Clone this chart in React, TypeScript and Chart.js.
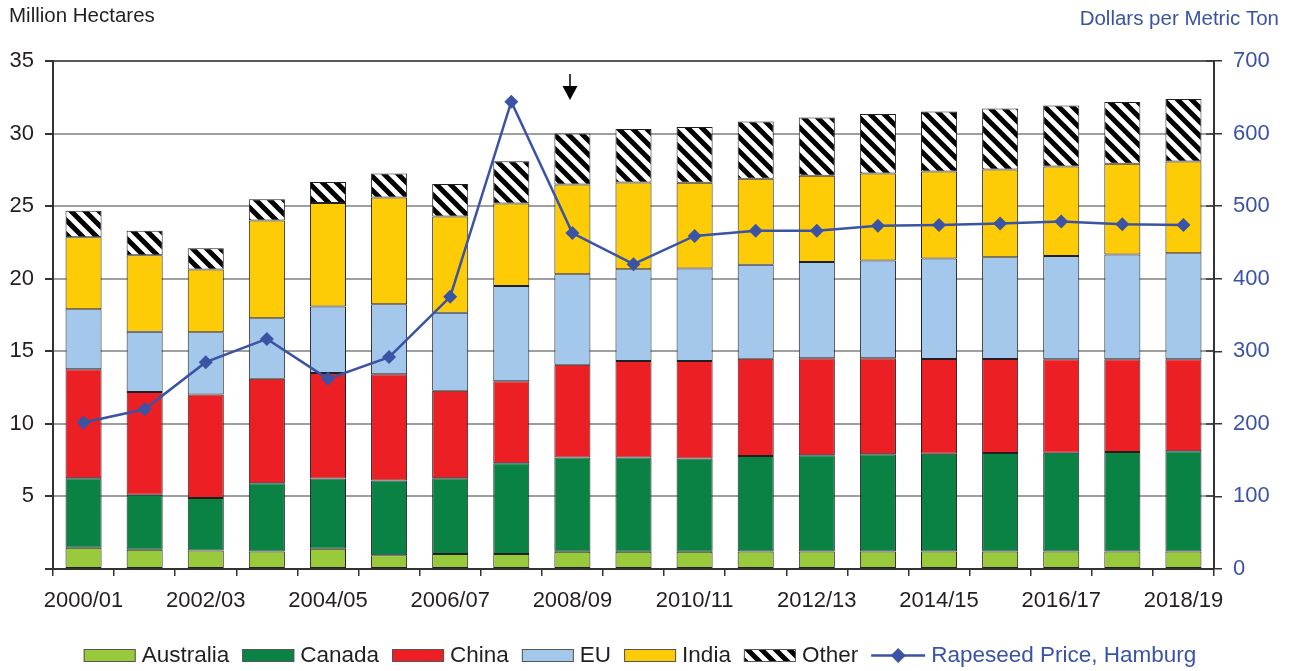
import { useEffect, useRef } from 'react';
import { Chart, registerables } from 'chart.js';

Chart.register(...registerables);

// Marketing years on the category axis
const seasons = [
  '2000/01', '2001/02', '2002/03', '2003/04', '2004/05', '2005/06', '2006/07',
  '2007/08', '2008/09', '2009/10', '2010/11', '2011/12', '2012/13', '2013/14',
  '2014/15', '2015/16', '2016/17', '2017/18', '2018/19',
];

// Harvested area, million hectares
const australia = [1.46, 1.32, 1.28, 1.21, 1.39, 0.95, 1.04, 1.04, 1.18, 1.18, 1.18, 1.21, 1.21, 1.21, 1.21, 1.21, 1.21, 1.21, 1.21];
const canada = [4.8, 3.79, 3.62, 4.69, 4.85, 5.15, 5.22, 6.24, 6.51, 6.51, 6.44, 6.57, 6.62, 6.69, 6.73, 6.78, 6.8, 6.85, 6.91];
const china = [7.5, 7.08, 7.13, 7.21, 7.26, 7.31, 6.02, 5.65, 6.39, 6.64, 6.71, 6.71, 6.69, 6.62, 6.53, 6.48, 6.44, 6.39, 6.33];
const eu = [4.14, 4.16, 4.28, 4.17, 4.58, 4.83, 5.38, 6.57, 6.23, 6.33, 6.37, 6.48, 6.64, 6.73, 6.92, 7.01, 7.12, 7.21, 7.31];
const india = [4.96, 5.27, 4.32, 6.73, 7.13, 7.36, 6.62, 5.68, 6.18, 5.97, 5.91, 5.91, 5.93, 6.0, 6.0, 6.05, 6.16, 6.26, 6.32];
const other = [1.82, 1.68, 1.47, 1.47, 1.45, 1.65, 2.24, 2.92, 3.51, 3.68, 3.84, 3.95, 4.02, 4.09, 4.13, 4.2, 4.21, 4.25, 4.3];

// Rapeseed price, Hamburg, dollars per metric ton
const price = [202, 220, 285, 317, 262, 292, 375, 644, 463, 420, 459, 466, 466, 473, 474, 476, 479, 475, 474];

// Index of the season marked with the arrow (start of projections)
const markedSeason = 8;

const FONT = '"Liberation Sans", Arial, Helvetica, sans-serif';
const INK = '#231f20';
const AXIS = '#333333';
const GRID = '#9d9fa2';
const BLUE = '#3a53a4';

const COLORS = {
  australia: '#99ca3c',
  canada: '#0a8244',
  china: '#ec2024',
  eu: '#a3c8eb',
  india: '#fdcc06',
};

function makeHatch(): CanvasPattern | string {
  const s = 14;
  const c = document.createElement('canvas');
  c.width = s;
  c.height = s;
  const g = c.getContext('2d');
  if (!g) return '#888';
  g.fillStyle = '#ffffff';
  g.fillRect(0, 0, s, s);
  g.strokeStyle = '#000000';
  g.lineWidth = 5;
  g.beginPath();
  for (const o of [-s, 0, s]) {
    g.moveTo(o - 3, -3);
    g.lineTo(o + s + 3, s + 3);
  }
  g.stroke();
  return g.createPattern(c, 'repeat') || '#888';
}

function line(ctx: CanvasRenderingContext2D, x1: number, y1: number, x2: number, y2: number) {
  ctx.beginPath();
  ctx.moveTo(x1, y1);
  ctx.lineTo(x2, y2);
  ctx.stroke();
}

export default function App() {
  const ref = useRef<HTMLCanvasElement>(null);

  useEffect(() => {
    const canvas = ref.current;
    if (!canvas) return;
    const hatch = makeHatch();

    const legendItems = [
      { label: 'Australia', fill: COLORS.australia },
      { label: 'Canada', fill: COLORS.canada },
      { label: 'China', fill: COLORS.china },
      { label: 'EU', fill: COLORS.eu },
      { label: 'India', fill: COLORS.india },
      { label: 'Other', fill: hatch },
    ];

    const decorations = {
      id: 'decorations',
      afterDraw(chart: any) {
        const { ctx, chartArea, scales } = chart;
        ctx.save();

        // axis titles
        ctx.font = `20.5px ${FONT}`;
        ctx.textBaseline = 'alphabetic';
        ctx.fillStyle = INK;
        ctx.textAlign = 'left';
        ctx.fillText('Million Hectares', 9, 22);
        ctx.fillStyle = BLUE;
        ctx.textAlign = 'right';
        ctx.fillText('Dollars per Metric Ton', 1279, 25);

        // inner half of the right-axis tick marks
        const y1 = scales.y1;
        ctx.strokeStyle = AXIS;
        ctx.lineWidth = 1.5;
        y1.ticks.forEach((t: any) => {
          const y = Math.round(y1.getPixelForValue(t.value));
          line(ctx, chartArea.right - 8, y, chartArea.right, y);
        });

        // arrow over the first projected season
        const ax = Math.round(scales.x.getPixelForValue(markedSeason)) - 2;
        const top = chartArea.top;
        ctx.strokeStyle = '#000';
        ctx.fillStyle = '#000';
        ctx.lineWidth = 1.5;
        line(ctx, ax, top + 13, ax, top + 27);
        ctx.beginPath();
        ctx.moveTo(ax - 7.5, top + 25);
        ctx.lineTo(ax + 7.5, top + 25);
        ctx.lineTo(ax, top + 39);
        ctx.closePath();
        ctx.fill();

        // legend
        ctx.font = `22.5px ${FONT}`;
        ctx.textAlign = 'left';
        const boxW = 52;
        const boxH = 13;
        const gapText = 6;
        const gapItem = 13;
        const lineW = 54;
        const priceLabel = 'Rapeseed Price, Hamburg';
        let total = 0;
        legendItems.forEach((it) => {
          total += boxW + gapText + ctx.measureText(it.label).width + gapItem;
        });
        total += lineW + gapText + ctx.measureText(priceLabel).width;
        let x = 640 - total / 2;
        const baseY = 662;
        const boxTop = 649;
        legendItems.forEach((it) => {
          ctx.fillStyle = it.fill;
          ctx.fillRect(x, boxTop, boxW, boxH);
          ctx.strokeStyle = '#555';
          ctx.lineWidth = 1;
          ctx.strokeRect(x + 0.5, boxTop + 0.5, boxW - 1, boxH - 1);
          x += boxW + gapText;
          ctx.fillStyle = INK;
          ctx.fillText(it.label, x, baseY);
          x += ctx.measureText(it.label).width + gapItem;
        });
        const ly = boxTop + boxH / 2;
        ctx.strokeStyle = BLUE;
        ctx.lineWidth = 2.5;
        line(ctx, x, ly, x + lineW, ly);
        const cx = x + lineW / 2;
        ctx.fillStyle = BLUE;
        ctx.beginPath();
        ctx.moveTo(cx - 7.5, ly);
        ctx.lineTo(cx, ly - 7.5);
        ctx.lineTo(cx + 7.5, ly);
        ctx.lineTo(cx, ly + 7.5);
        ctx.closePath();
        ctx.fill();
        x += lineW + gapText;
        ctx.fillStyle = BLUE;
        ctx.fillText(priceLabel, x, baseY);

        ctx.restore();
      },
    };

    const barBase = {
      type: 'bar' as const,
      stack: 'area',
      yAxisID: 'y',
      borderColor: INK,
      borderWidth: 1,
      borderSkipped: false,
      barPercentage: 0.59,
      categoryPercentage: 1,
      order: 1,
    };

    const chart = new Chart(canvas, {
      type: 'bar',
      data: {
        labels: seasons,
        datasets: [
          { ...barBase, label: 'Australia', data: australia, backgroundColor: COLORS.australia },
          { ...barBase, label: 'Canada', data: canada, backgroundColor: COLORS.canada },
          { ...barBase, label: 'China', data: china, backgroundColor: COLORS.china },
          { ...barBase, label: 'EU', data: eu, backgroundColor: COLORS.eu },
          { ...barBase, label: 'India', data: india, backgroundColor: COLORS.india },
          { ...barBase, label: 'Other', data: other, backgroundColor: hatch as any },
          {
            type: 'line' as const,
            label: 'Rapeseed Price, Hamburg',
            data: price,
            yAxisID: 'y1',
            borderColor: BLUE,
            borderWidth: 2.5,
            backgroundColor: BLUE,
            pointStyle: 'rectRot',
            pointRadius: 7,
            pointBackgroundColor: BLUE,
            pointBorderColor: BLUE,
            pointBorderWidth: 0,
            tension: 0,
            order: 0,
          } as any,
        ],
      },
      options: {
        responsive: false,
        animation: false,
        devicePixelRatio: 1,
        layout: { padding: { top: 61, left: 0, right: 0, bottom: 0 } },
        plugins: {
          legend: { display: false },
          tooltip: { enabled: false },
        },
        scales: {
          x: {
            stacked: true,
            offset: true,
            grid: {
              display: true,
              drawOnChartArea: false,
              drawTicks: true,
              tickLength: 7,
              tickColor: AXIS,
              lineWidth: 1.5,
              offset: true,
            },
            border: { display: true, color: AXIS, width: 2 },
            ticks: {
              autoSkip: false,
              maxRotation: 0,
              minRotation: 0,
              padding: 12,
              color: INK,
              font: { family: FONT, size: 22 },
              callback: (_v: any, i: number) => (i % 2 === 0 ? seasons[i] : ''),
            },
            afterFit: (s: any) => {
              s.height = 102;
            },
          },
          y: {
            stacked: true,
            position: 'left',
            min: 0,
            max: 35,
            ticks: {
              stepSize: 5,
              padding: 11,
              color: INK,
              font: { family: FONT, size: 22 },
              callback: (v: any) => (v === 0 ? '' : String(v)),
            },
            grid: {
              color: (c: any) =>
                c.tick && c.tick.value === 35 ? '#5a5b5d' : c.tick && c.tick.value === 0 ? 'rgba(0,0,0,0)' : GRID,
              lineWidth: 2,
              tickLength: 8,
              tickColor: AXIS,
              drawTicks: true,
            },
            border: { display: true, color: AXIS, width: 2 },
            afterFit: (s: any) => {
              s.width = 53;
            },
          },
          y1: {
            position: 'right',
            min: 0,
            max: 700,
            ticks: {
              stepSize: 100,
              padding: 11,
              color: BLUE,
              font: { family: FONT, size: 22 },
            },
            grid: {
              drawOnChartArea: false,
              drawTicks: true,
              tickLength: 8,
              tickColor: AXIS,
              lineWidth: 1.5,
            },
            border: { display: true, color: AXIS, width: 2 },
            afterFit: (s: any) => {
              s.width = 77;
            },
          },
        },
      },
      plugins: [decorations],
    });

    return () => chart.destroy();
  }, []);

  return (
    <div style={{ position: 'fixed', left: 0, top: 0, width: 1291, height: 671, background: '#ffffff' }}>
      <canvas ref={ref} width={1291} height={671} style={{ display: 'block' }} />
    </div>
  );
}
